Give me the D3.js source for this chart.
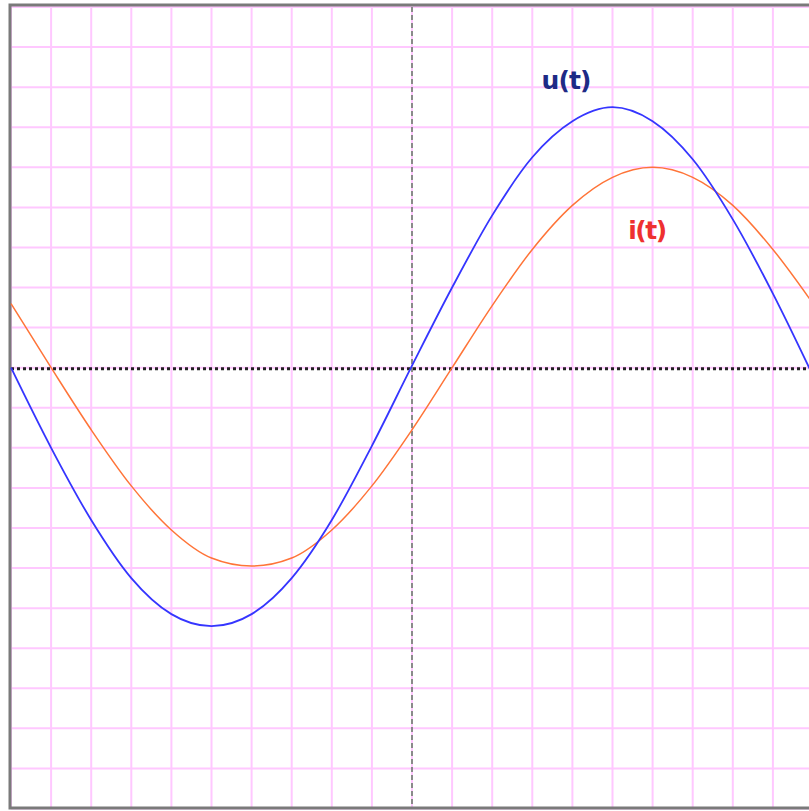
<!DOCTYPE html>
<html>
<head>
<meta charset="utf-8">
<script src="https://cdn.jsdelivr.net/npm/d3@7"></script>
<style>
  body { margin: 0; background: #fff; }
  svg { display: block; }
</style>
</head>
<body>
<script>
// time in grid cells (one cell = 1/20 period), read at every grid column
var tValues = [-10, -9, -8, -7, -6, -5, -4, -3, -2, -1, 0, 1, 2, 3, 4, 5, 6, 7, 8, 9, 10];
// u(t) in grid cells
var uValues = [0, -2.0, -3.8, -5.25, -6.15, -6.45, -6.15, -5.25, -3.8, -1.95, 0.05, 2.0, 3.8, 5.25, 6.15, 6.5, 6.15, 5.2, 3.7, 1.85, -0.2];
// i(t) in grid cells
var iValues = [1.6, 0, -1.55, -2.95, -4.05, -4.75, -4.95, -4.75, -4.05, -2.95, -1.55, 0, 1.55, 2.95, 4.05, 4.75, 5.0, 4.75, 4.05, 2.95, 1.6];
var labels = ["u(t)", "i(t)"];

var outerWidth = 809, outerHeight = 811;

var svg = d3.select("body").append("svg")
    .attr("width", outerWidth)
    .attr("height", outerHeight);

// Scales: 20 x 20 cells
var xScale = d3.scaleLinear().domain([-10, 10]).range([11, 813]);
var yScale = d3.scaleLinear().domain([-11, 9]).range([808.5, 7]);

// Grid
var grid = svg.append("g").attr("stroke", "#ffc8ff").attr("stroke-width", 2);
grid.selectAll("line.v")
    .data(d3.range(-10, 11))
    .enter().append("line")
        .attr("class", "v")
        .attr("x1", function (d) { return xScale(d); })
        .attr("x2", function (d) { return xScale(d); })
        .attr("y1", yScale(9))
        .attr("y2", yScale(-11));
grid.selectAll("line.h")
    .data(d3.range(-11, 10))
    .enter().append("line")
        .attr("class", "h")
        .attr("x1", xScale(-10))
        .attr("x2", xScale(10))
        .attr("y1", function (d) { return yScale(d); })
        .attr("y2", function (d) { return yScale(d); });

// Axes
svg.append("line")
    .attr("x1", xScale(0)).attr("x2", xScale(0))
    .attr("y1", yScale(9)).attr("y2", yScale(-11))
    .attr("stroke", "#8a8a8a")
    .attr("stroke-width", 2)
    .attr("stroke-dasharray", "5,3");
svg.append("line")
    .attr("x1", xScale(-10)).attr("x2", xScale(10))
    .attr("y1", yScale(0) + 1).attr("y2", yScale(0) + 1)
    .attr("stroke", "#222")
    .attr("stroke-width", 3)
    .attr("stroke-dasharray", "3,3");

// Frame
svg.append("path")
    .attr("d", "M" + (xScale(10) + 5) + ",5 H10 V808 H" + (xScale(10) + 5))
    .attr("fill", "none")
    .attr("stroke", "#7a7a7a")
    .attr("stroke-width", 3);

// Curves
var line = d3.line()
    .x(function (d) { return xScale(d[0]); })
    .y(function (d) { return yScale(d[1]); })
    .curve(d3.curveMonotoneX);

svg.append("path")
    .datum(d3.zip(tValues, iValues))
    .attr("d", line)
    .attr("fill", "none")
    .attr("stroke", "#ff7438")
    .attr("stroke-width", 1.5);

svg.append("path")
    .datum(d3.zip(tValues, uValues))
    .attr("d", line)
    .attr("fill", "none")
    .attr("stroke", "#3535ff")
    .attr("stroke-width", 1.8);

// Labels
svg.append("text")
    .attr("x", xScale(3.23))
    .attr("y", yScale(6.95))
    .attr("font-family", "DejaVu Sans")
    .attr("font-weight", "bold")
    .attr("font-size", 25)
    .attr("textLength", 50)
    .attr("fill", "#1e2a86")
    .text(labels[0]);
svg.append("text")
    .attr("x", xScale(5.39))
    .attr("y", yScale(3.21))
    .attr("font-family", "DejaVu Sans")
    .attr("font-weight", "bold")
    .attr("font-size", 25)
    .attr("textLength", 39)
    .attr("fill", "#ee3030")
    .text(labels[1]);
</script>
</body>
</html>
